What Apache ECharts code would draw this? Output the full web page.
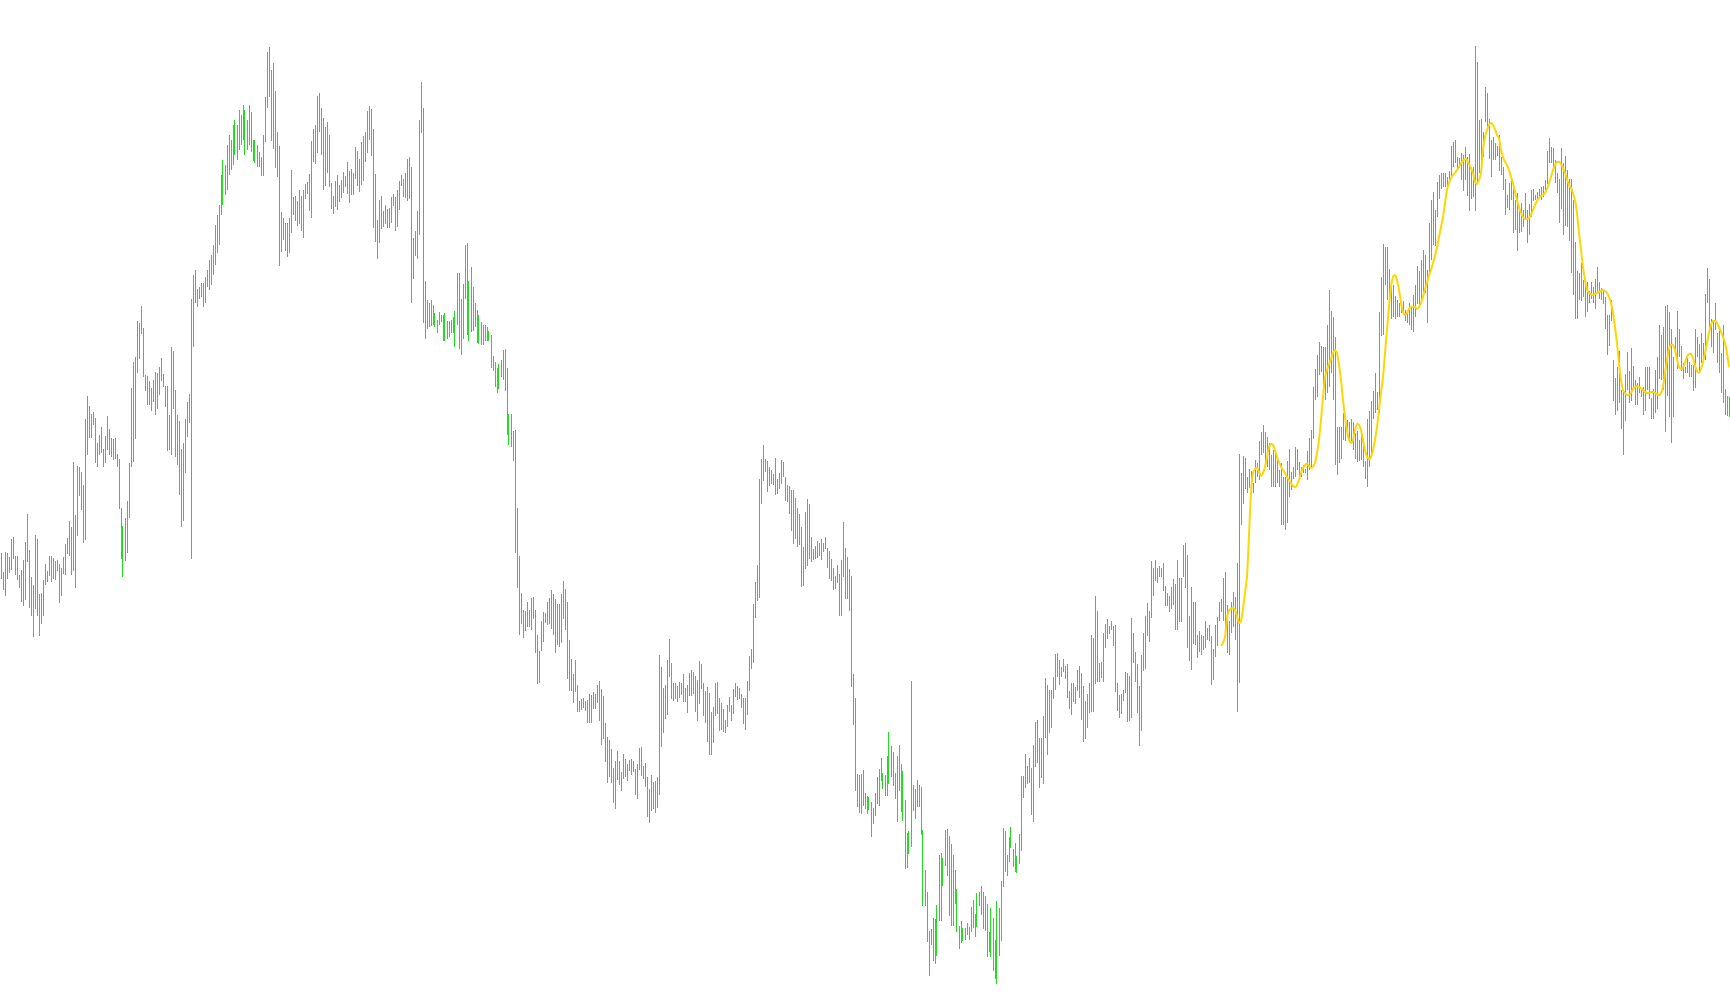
<!DOCTYPE html>
<html>
<head>
<meta charset="utf-8">
<script src="https://cdn.jsdelivr.net/npm/echarts@6/dist/echarts.min.js"></script>
<style>
html,body{margin:0;padding:0;background:#ffffff;}
#chart{width:1730px;height:1005px;}
</style>
</head>
<body>
<div id="chart"></div>
<script>
// Bar highs (price points), one per bar, oldest first
const highs = [
452,433,453,452,448,466,468,449,449,430,
435,445,463,491,455,428,420,470,466,411,
412,425,441,434,449,449,447,444,445,441,
437,448,461,467,484,478,543,490,539,538,
533,520,586,609,599,591,593,587,562,570,
578,556,569,589,576,567,566,567,551,546,
497,479,487,504,542,617,643,648,684,682,
699,677,630,629,624,617,625,633,632,638,
647,631,619,619,590,658,654,615,590,584,
556,562,586,603,611,706,
730,735,716,718,722,722,728,735,745,750,760,780,790,800,830,845,840,860,870,865,880,885,880,895,890,900,895,885,900,
893,865,865,860,853,848,870,908,953,958,
935,942,914,873,859,793,787,782,782,787,
835,808,809,804,815,809,815,821,823,831,
864,876,880,909,912,897,887,878,883,870,
822,809,824,830,820,825,833,829,843,834,
836,832,858,854,846,863,869,873,894,899,
896,876,831,785,805,809,794,800,796,797,
808,811,808,815,824,830,826,832,846,848,
838,767,774,794,885,923,897,724,705,702,
705,700,692,685,693,690,690,692,684,684,
685,688,694,732,732,706,721,760,762,724,
738,718,702,695,690,683,680,680,678,674,
670,649,643,637,641,
645,655,656,637,591,591,574,575,497,449,
412,395,394,403,395,407,408,395,370,354,
384,393,392,403,407,415,411,406,401,401,
411,424,416,403,365,346,331,345,320,304,
306,307,304,305,311,310,313,311,320,324,
316,309,282,268,265,256,237,244,254,244,
233,251,246,241,245,246,244,236,241,257,
258,239,242,228,216,230,223,224,228,350,
338,317,320,345,366,342,322,322,319,323,
322,331,317,320,332,335,333,329,325,344,
341,322,314,318,312,293,298,322,323,307,
302,296,285,300,308,300,316,322,319,317,
311,307,307,324,349,
356,401,423,440,526,546,560,546,544,538,
535,531,547,526,532,545,543,528,520,519,
515,515,507,497,491,478,458,493,506,501,
468,456,459,464,462,466,462,468,457,454,
446,437,429,440,431,445,483,457,448,436,
429,331,307,231,230,231,235,212,209,208,
203,197,212,228,236,247,232,230,249,273,
259,253,232,249,260,241,234,205,172,174,
324,220,216,225,220,218,175,135,113,74,
76,87,86,100,150,152,147,175,176,169,
161,150,135,116,79,84,77,77,82,78,
98,105,91,112,113,119,113,109,101,73,
97,87,65,104,97,
124,177,174,150,168,178,156,162,149,171,
229,229,251,239,247,237,260,283,285,267,
267,289,327,320,315,315,328,351,352,345,
338,346,339,341,314,322,322,318,335,339,
332,319,304,311,322,370,367,409,394,342,
343,372,381,386,379,384,379,380,322,310,
311,315,333,332,329,387,372,353,341,319,
350,372,389,402,394,444,437,445,437,439,
437,442,419,412,409,418,426,421,445,427,
427,460,462,450,389,418,403,403,370,374,
370,369,384,377,380,369,356,380,388,403,
406,427,433,400,384,403,413,408,442,551,
532,549,547,528,536,
534,522,545,542,564,573,580,573,568,562,
550,555,552,548,535,542,528,528,544,556,
533,538,558,556,543,538,540,536,554,567,
575,618,636,650,663,659,658,658,680,715,
694,688,668,578,578,578,592,586,585,583,
586,583,572,574,565,573,560,544,586,594,
604,614,632,613,693,728,761,758,758,736,
724,720,709,705,702,702,704,695,692,702,
698,710,720,739,734,745,755,750,735,782,
805,813,795,823,830,832,832,832,828,834,
859,863,865,848,847,852,850,858,848,851,
837,838,959,943,885,886,873,918,912,886,
865,868,862,859,870,
848,838,826,810,822,828,821,805,812,795,
802,795,812,795,801,815,816,810,813,816,
818,819,825,854,867,858,857,845,832,826,
857,842,849,835,826,826,805,763,734,732,
742,725,722,723,714,723,718,726,738,723,
717,715,708,690,690,705,645,627,638,654,
615,615,631,653,634,657,639,625,622,628,
615,618,638,638,638,607,616,635,648,680,
670,678,699,700,693,676,648,668,694,676,
659,642,638,649,643,640,640,676,668,661,
672,662,711,737,726,686,685,702,672,675,
652,680,616,609,608
];

// Bar lows (price points), one per bar, oldest first
const lows = [
426,415,409,426,432,435,446,430,425,417,
403,399,405,443,397,389,368,396,389,369,
381,389,420,423,429,423,426,425,434,402,
409,431,430,451,449,430,434,417,469,509,
495,462,465,550,567,567,580,542,538,550,
552,538,542,555,550,548,545,546,538,496,
446,428,444,452,487,538,543,566,632,646,
671,628,614,600,600,594,603,590,596,610,
624,618,598,554,555,550,596,548,540,510,
478,484,532,568,582,446,
658,702,698,706,708,698,702,718,715,720,730,740,752,760,790,800,810,815,830,835,840,850,845,855,860,865,850,855,860,
853,844,842,838,838,829,829,863,897,908,
864,856,837,828,739,753,765,754,748,752,
772,790,784,779,781,774,767,806,811,794,
787,843,841,852,873,850,815,819,832,818,
796,791,798,795,803,807,812,818,811,802,
810,810,826,819,813,820,824,843,852,865,
849,777,763,746,762,776,778,781,777,777,
782,799,774,778,795,819,808,807,804,806,
702,726,749,746,770,872,682,666,676,678,
679,680,678,672,680,683,664,664,666,668,
672,672,658,680,656,650,666,706,670,664,
673,674,678,662,661,660,660,664,664,664,
637,634,618,612,616,
628,625,614,570,560,558,544,452,417,370,
381,367,374,378,378,375,386,352,321,322,
354,363,382,380,381,376,370,352,360,358,
362,386,375,326,314,314,302,313,293,293,
295,297,294,282,282,282,296,296,302,284,
260,266,243,222,228,222,202,196,225,220,
214,226,228,224,234,230,233,210,206,235,
229,226,218,188,182,194,196,192,197,210,
258,272,286,290,328,306,304,306,303,307,
310,303,303,292,309,309,311,293,284,301,
316,289,282,263,250,250,262,289,291,274,
275,273,272,278,293,284,291,308,305,306,
297,281,275,290,314,
336,342,387,404,407,501,524,533,513,519,
521,520,510,511,516,521,528,504,503,491,
474,461,466,458,460,418,419,436,439,446,
443,445,446,447,449,445,453,456,437,426,
424,415,416,422,389,389,428,406,406,394,
318,280,214,198,192,191,199,196,191,195,
168,181,189,201,199,224,216,209,209,221,
228,219,206,183,214,193,184,136,137,151,
158,194,186,198,198,170,99,99,63,29,
60,44,41,49,84,84,119,139,129,89,
79,79,101,73,56,62,64,65,70,65,
73,77,68,78,99,90,76,74,48,53,
48,34,26,21,49,
64,118,133,129,143,157,138,133,132,141,
154,207,217,221,222,190,183,238,242,217,
227,221,267,250,272,277,306,315,328,320,
328,333,326,307,296,290,303,301,314,307,
285,263,266,277,292,293,293,321,323,323,
327,323,357,366,371,375,359,313,294,287,
291,304,312,283,284,287,342,323,292,259,
274,334,336,369,363,387,409,424,422,428,
428,414,399,399,393,396,400,375,375,383,
383,428,417,357,344,335,361,360,347,353,
350,355,357,365,364,320,325,348,359,384,
393,384,378,352,350,372,378,365,293,322,
480,501,516,512,517,
519,512,522,528,525,550,552,542,538,535,
518,518,518,522,518,480,480,475,482,508,
515,526,528,535,528,528,532,532,525,535,
538,566,605,608,630,633,618,605,612,618,
632,605,540,530,542,546,565,564,572,565,
562,555,546,543,544,545,538,526,518,538,
552,586,592,595,592,669,670,720,705,704,
686,688,686,688,688,692,693,684,682,680,
675,673,688,701,698,706,708,712,682,732,
745,760,759,788,806,816,818,818,817,822,
829,838,842,835,837,825,814,825,809,794,
806,808,794,821,832,838,848,883,878,846,
828,845,845,849,834,
830,815,790,797,795,805,772,775,754,772,
773,778,785,762,770,788,804,805,805,808,
805,808,815,821,842,842,838,822,812,782,
796,770,779,778,764,732,710,686,686,705,
704,708,688,693,702,706,702,696,712,706,
705,701,676,650,659,684,604,590,594,602,
576,550,584,615,602,604,615,600,600,612,
608,590,594,615,606,586,586,592,596,626,
625,615,573,609,588,562,588,653,636,648,
634,626,632,632,628,628,614,617,648,632,
642,645,645,702,672,658,652,675,642,632,
612,602,590,589,588
];

// Smoothed moving-average values, starting at bar index maStart
const maStart = 610;
const maValues = [
359,362,368,386,395,396,397,395,389,382,384,396,412,428,470,
512,532,536,537,533,529,532,538,548,558,
561,560,555,548,543,538,535,532,528,525,
522,519,518,520,525,532,537,540,541,539,
537,538,542,552,565,585,608,628,635,641,
646,652,655,652,640,625,605,588,575,565,
562,565,575,581,580,575,565,555,548,546,
548,555,565,578,595,612,628,652,675,698,
718,728,730,725,715,702,693,690,692,696,
698,698,698,696,698,702,708,716,722,730,
735,742,749,758,768,778,788,802,815,822,
827,830,832,835,838,842,844,846,845,841,
837,832,823,821,825,832,855,868,875,880,
882,880,876,870,867,
855,848,843,840,835,828,822,813,805,798,
792,788,786,786,787,790,795,800,804,807,
809,810,812,816,822,828,835,840,843,843,
841,837,832,826,820,817,812,805,792,772,
755,738,725,716,712,711,710,711,712,713,
714,715,714,712,708,702,692,678,662,642,
625,615,612,610,610,612,616,618,619,618,
617,615,613,612,612,613,613,612,611,610,
612,618,632,645,656,660,660,655,646,638,
636,637,642,648,651,651,647,640,634,632,
636,643,652,662,672,680,684,684,682,678,
673,668,662,652,638
];

const N = Math.min(highs.length, lows.length);
const categories = [];
const barData = [];
for (let i = 0; i < N; i++) {
  categories.push(String(i + 1));
  barData.push([i, lows[i], highs[i]]);
}
const maData = new Array(N).fill(null);
for (let k = 0; k < maValues.length && maStart + k < N; k++) {
  maData[maStart + k] = maValues[k];
}

const chart = echarts.init(document.getElementById('chart'), null, {renderer: 'canvas'});
chart.setOption({
  backgroundColor: '#ffffff',
  animation: false,
  grid: {left: 0, right: 0, top: 0, bottom: 0, containLabel: false},
  xAxis: {
    type: 'category',
    data: categories,
    boundaryGap: true,
    show: false
  },
  yAxis: {
    type: 'value',
    min: 0,
    max: 1005,
    show: false,
    splitLine: {show: false}
  },
  series: [
    {
      type: 'custom',
      name: 'bars',
      encode: {x: 0, y: [1, 2]},
      data: barData,
      clip: false,
      renderItem: function (params, api) {
        const i = api.value(0);
        const pLo = api.coord([i, api.value(1)]);
        const pHi = api.coord([i, api.value(2)]);
        const x = Math.floor(pLo[0]);
        const top = Math.round(pHi[1]);
        const bottom = Math.round(pLo[1]);
        return {
          type: 'rect',
          shape: {x: x, y: top, width: 1, height: Math.max(1, bottom - top)},
          style: {fill: 'rgb(30,222,30)', stroke: null}
        };
      }
    },
    {
      type: 'line',
      name: 'MA',
      data: maData,
      showSymbol: false,
      symbol: 'none',
      connectNulls: false,
      smooth: 0.2,
      lineStyle: {color: '#FFD700', width: 2},
      z: 5
    }
  ]
});
</script>
</body>
</html>
